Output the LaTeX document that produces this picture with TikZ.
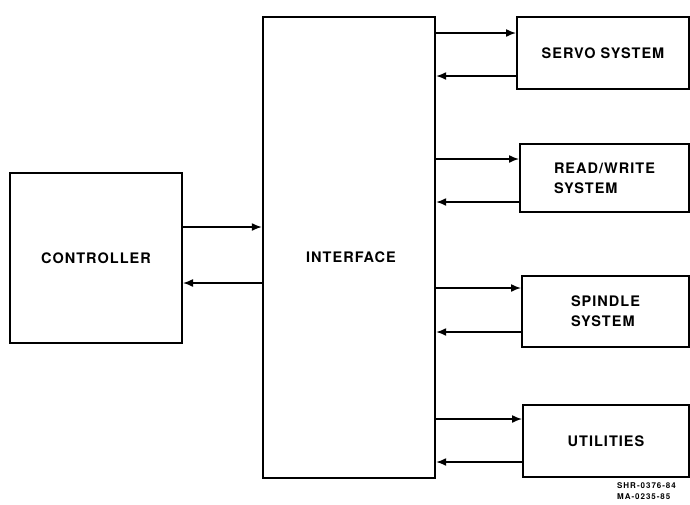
\documentclass[tikz,border=0pt]{standalone}
\usepackage{fontspec}
\setmainfont{TeX Gyre Heros}[LetterSpace=7]
\newfontfamily\notefont{TeX Gyre Heros}[LetterSpace=12]
\usetikzlibrary{arrows.meta}
\begin{document}
\begin{tikzpicture}[x=1pt,y=-1pt,
  box/.style={draw,line width=2pt,rectangle,inner sep=0pt,font=\bfseries\fontsize{14.5}{20}\selectfont},
  arr/.style={line width=1.5pt,-{Latex[length=10pt,width=8pt]}},
  lbl/.style={font=\bfseries\fontsize{14.5}{20}\selectfont,inner sep=0pt}]
\useasboundingbox (0,0) rectangle (690,504);
\node[box,minimum width=172pt,minimum height=170pt] (ctrl) at (96,258) {CONTROLLER};
\node[box,line width=2.4pt,minimum width=172pt,minimum height=461pt] (iface) at (349,247.5) {};
\node[lbl] (iftext) at (351,257.5) {INTERFACE};
\node[box,minimum width=172pt,minimum height=72pt] (servo) at (603,53) {SERVO SYSTEM};
\node[box,minimum width=169pt,minimum height=68pt,align=left] (rw) at (604.5,178) {READ/WRITE\\SYSTEM};
\node[box,minimum width=167pt,minimum height=71pt,align=left] (spin) at (605.5,311.5) {SPINDLE\\SYSTEM};
\node[box,minimum width=166pt,minimum height=72pt] (util) at (606,441) {UTILITIES};
\node[inner sep=0pt,anchor=north west,align=left,font=\notefont\bfseries\fontsize{8}{11}\selectfont] (note) at (617,482) {SHR-0376-84\\MA-0235-85};
% controller <-> interface
\coordinate (c1) at ([yshift=31pt]ctrl.east);
\coordinate (c2) at ([yshift=-25pt]ctrl.east);
\draw[arr] (c1) -- (c1 -| iface.west);
\draw[arr] (c2 -| iface.west) -- (c2);
% interface <-> right boxes
\coordinate (s1) at ([yshift=20pt]servo.west);
\coordinate (s2) at ([yshift=-23pt]servo.west);
\draw[arr] (s1 -| iface.east) -- (s1);
\draw[arr] (s2) -- (s2 -| iface.east);
\coordinate (r1) at ([yshift=19pt]rw.west);
\coordinate (r2) at ([yshift=-24pt]rw.west);
\draw[arr] (r1 -| iface.east) -- (r1);
\draw[arr] (r2) -- (r2 -| iface.east);
\coordinate (p1) at ([yshift=23.5pt]spin.west);
\coordinate (p2) at ([yshift=-20.5pt]spin.west);
\draw[arr] (p1 -| iface.east) -- (p1);
\draw[arr] (p2) -- (p2 -| iface.east);
\coordinate (u1) at ([yshift=22pt]util.west);
\coordinate (u2) at ([yshift=-21pt]util.west);
\draw[arr] (u1 -| iface.east) -- (u1);
\draw[arr] (u2) -- (u2 -| iface.east);
\end{tikzpicture}
\end{document}
